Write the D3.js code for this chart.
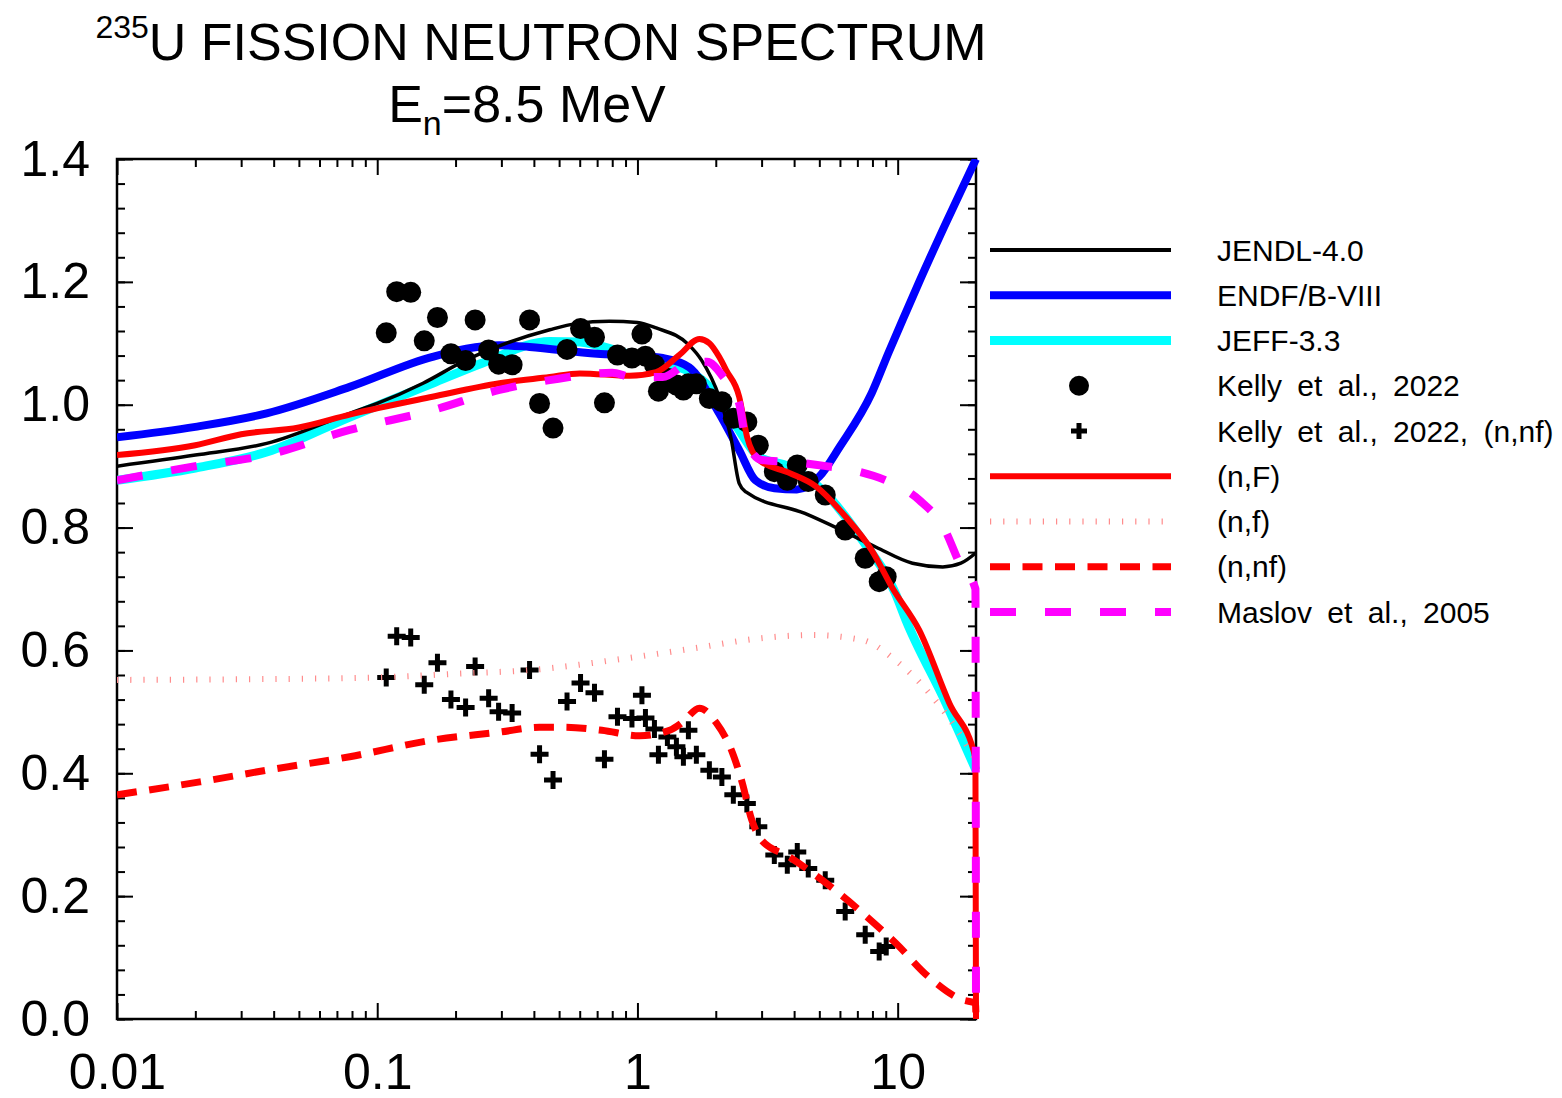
<!DOCTYPE html>
<html>
<head>
<meta charset="utf-8">
<script src="https://cdn.jsdelivr.net/npm/d3@7/dist/d3.min.js"></script>
<style>
  body { margin: 0; background: #fff; }
  text { font-family: "Liberation Sans", Arial, sans-serif; fill: #000; }
</style>
</head>
<body>
<svg id="chart" width="1562" height="1098"></svg>
<script>
/************************************ Data *******************************/
// evaluated spectra, [E (MeV), ratio to Maxwellian]
var jendl = [[0.01,0.900],[0.02,0.918],[0.0376,0.937],[0.0784,0.986],[0.1,1.002],[0.15,1.035],[0.22,1.073],
  [0.3,1.097],[0.46,1.122],[0.58,1.132],[0.78,1.136],[1.0,1.134],[1.18,1.125],[1.58,1.097],[1.76,1.073],
  [2.06,1.013],[2.29,0.945],[2.46,0.872],[2.61,0.858],[4.4,0.823],[6.0,0.797],[8.27,0.768],[11.4,0.742],
  [14.9,0.736],[17.5,0.742],[20,0.759]];
var endf = [[0.01,0.947],[0.02,0.964],[0.0376,0.986],[0.0784,1.029],[0.163,1.078],[0.295,1.097],[0.385,1.094],
  [0.7,1.083],[1.0,1.080],[1.25,1.076],[1.58,1.061],[2.06,0.986],[2.46,0.926],[2.84,0.877],[3.36,0.864],
  [4.1,0.862],[5.0,0.883],[6.0,0.932],[7.95,1.019],[9.23,1.085],[10.5,1.140],[12.1,1.200],[15.1,1.290],[20,1.40]];
var jeff = [[0.01,0.877],[0.02,0.897],[0.0376,0.923],[0.0784,0.980],[0.163,1.035],[0.254,1.068],[0.46,1.103],
  [0.6,1.102],[0.8,1.090],[1.08,1.073],[1.55,1.056],[1.89,1.029],[2.41,0.964],[2.93,0.915],[3.83,0.899],
  [5.13,0.861],[7.31,0.780],[9.8,0.693],[10.75,0.650],[15.35,0.514],[20,0.405]];
var nF = [[0.01,0.918],[0.02,0.934],[0.03,0.952],[0.05,0.963],[0.0784,0.984],[0.163,1.013],[0.295,1.035],
  [0.46,1.045],[0.6,1.051],[0.935,1.047],[1.18,1.053],[1.45,1.081],[1.73,1.107],[1.89,1.100],[2.06,1.078],
  [2.2,1.055],[2.46,1.013],[2.64,0.947],[2.93,0.910],[3.83,0.889],[4.85,0.867],[6.3,0.818],[7.95,0.763],
  [9.6,0.700],[12.1,0.633],[15.8,0.514],[19.9,0.425],[20,0.0]];
var nf1 = [[0.01,0.552],[0.03,0.553],[0.1,0.556],[0.2,0.562],[0.385,0.568],[0.935,0.588],[1.68,0.604],
  [3.0,0.620],[4.67,0.625],[7.31,0.617],[9.8,0.584],[13.2,0.531],[17.2,0.466],[20,0.420]];
var nnf = [[0.01,0.365],[0.0208,0.386],[0.0376,0.405],[0.0784,0.427],[0.163,0.454],[0.295,0.467],[0.42,0.475],
  [0.52,0.475],[0.73,0.470],[1.02,0.461],[1.33,0.470],[1.49,0.483],[1.73,0.506],[2.01,0.482],[2.32,0.433],
  [2.53,0.384],[2.75,0.324],[3.0,0.291],[3.83,0.264],[5.13,0.226],[7.31,0.173],[9.8,0.124],[13.2,0.068],
  [17.8,0.031],[19.9,0.026],[20,0.0]];
var maslov = [[0.01,0.877],[0.02,0.900],[0.0376,0.918],[0.0784,0.959],[0.163,0.991],[0.295,1.024],[0.46,1.040],
  [0.8,1.052],[0.95,1.045],[1.25,1.045],[1.62,1.070],[1.85,1.070],[2.13,1.046],[2.46,1.002],[2.61,0.943],
  [3.0,0.910],[4.1,0.906],[5.3,0.900],[7.1,0.891],[9.1,0.876],[12.1,0.845],[15.2,0.796],[17.3,0.742],
  [19.9,0.700],[20,0.0]];

// Kelly et al., 2022 measurement (same energies for both sets)
var kellyE = [0.1083,0.1188,0.1345,0.1516,0.1704,0.1920,0.2186,0.2378,0.2680,0.2927,0.3299,0.3850,0.4206,
  0.4738,0.5363,0.6044,0.6838,0.7468,0.8381,0.9526,1.0406,1.0733,1.1622,1.2040,1.3035,1.4117,1.5018,
  1.5697,1.6843,1.8896,2.1109,2.3361,2.6329,2.9140,3.3574,3.7660,4.1137,4.5329,5.2683,6.2856,7.5040,
  8.4915,9.0352];
var kellyTotal = [1.117,1.184,1.183,1.104,1.142,1.083,1.072,1.138,1.089,1.066,1.065,1.138,1.002,0.962,1.090,
  1.124,1.110,1.003,1.081,1.076,1.115,1.079,1.065,1.022,1.043,1.032,1.024,1.034,1.034,1.010,1.005,0.978,
  0.972,0.934,0.891,0.877,0.902,0.875,0.853,0.796,0.750,0.712,0.720];
var kellyNnf = [0.556,0.623,0.621,0.544,0.580,0.520,0.507,0.574,0.522,0.500,0.498,0.568,0.431,0.389,0.517,
  0.547,0.531,0.423,0.492,0.489,0.527,0.490,0.472,0.430,0.459,0.443,0.427,0.470,0.430,0.405,0.394,0.365,
  0.351,0.313,0.267,0.251,0.272,0.245,0.226,0.175,0.137,0.110,0.118];

var xMajor = [0.01, 0.1, 1, 10];
var yMajor = [0, 0.2, 0.4, 0.6, 0.8, 1.0, 1.2, 1.4];
var legendLabels = ["JENDL-4.0", "ENDF/B-VIII", "JEFF-3.3", "Kelly et al., 2022", "Kelly et al., 2022, (n,nf)",
  "(n,F)", "(n,f)", "(n,nf)", "Maslov et al., 2005"];

/************************************ Scales *******************************/
var svg = d3.select("#chart");
var x0 = 117, x1 = 976, y0 = 1019, y1 = 159;
var x = d3.scaleLog().domain([0.01, 20]).range([x0, x1]);
var y = d3.scaleLinear().domain([0, 1.4]).range([y0, y1]);

var xMinor = [];
xMajor.forEach(function(d) { for (var k = 2; k <= 9; k++) { if (d * k < 19.99) xMinor.push(d * k); } });
var yMinor = d3.range(0, 71).map(function(i) { return i * 0.04; }).filter(function(v) { return v < 1.41; });

/************************************ Styles *******************************/
var styles = {
  jendl:  {data: jendl,  color: "#000000", width: 3.5, dash: null},
  endf:   {data: endf,   color: "#0000ff", width: 8,   dash: null},
  jeff:   {data: jeff,   color: "#00ffff", width: 9,   dash: null},
  nF:     {data: nF,     color: "#ff0000", width: 6,   dash: null},
  nf1:    {data: nf1,    color: "#ff8c8c", width: 6,   dash: "1.2,12"},
  nnf:    {data: nnf,    color: "#ff0000", width: 7,   dash: "20,12.5"},
  maslov: {data: maslov, color: "#ff00ff", width: 8,   dash: "26,29"}
};

svg.append("defs").append("clipPath").attr("id", "plotclip")
  .append("rect").attr("x", x0).attr("y", y1).attr("width", x1 - x0 + 6).attr("height", y0 - y1 + 2);

/************************************ Axes *******************************/
function styleAxis(g) {
  g.select(".domain").remove();
  g.selectAll(".tick line").attr("stroke", "#000").attr("stroke-width", 2);
  g.selectAll(".tick text").style("font-size", "50px").attr("font-family", "Liberation Sans, Arial, sans-serif");
}

svg.append("g").attr("transform", "translate(" + x0 + ",0)")
  .call(d3.axisLeft(y).tickValues(yMinor).tickSize(-8).tickFormat("")).call(styleAxis);
svg.append("g").attr("transform", "translate(" + x0 + ",0)")
  .call(d3.axisLeft(y).tickValues(yMajor).tickSize(-16).tickPadding(27).tickFormat(d3.format(".1f"))).call(styleAxis);
svg.append("g").attr("transform", "translate(" + x1 + ",0)")
  .call(d3.axisRight(y).tickValues(yMinor).tickSize(-8).tickFormat("")).call(styleAxis);
svg.append("g").attr("transform", "translate(" + x1 + ",0)")
  .call(d3.axisRight(y).tickValues(yMajor).tickSize(-16).tickFormat("")).call(styleAxis);

svg.append("g").attr("transform", "translate(0," + y0 + ")")
  .call(d3.axisBottom(x).tickValues(xMinor).tickSize(-8).tickFormat("")).call(styleAxis);
svg.append("g").attr("transform", "translate(0," + y0 + ")")
  .call(d3.axisBottom(x).tickValues(xMajor).tickSize(-16).tickPadding(34).tickFormat(function(d) { return String(d); }))
  .call(styleAxis);
svg.append("g").attr("transform", "translate(0," + y1 + ")")
  .call(d3.axisTop(x).tickValues(xMinor).tickSize(-8).tickFormat("")).call(styleAxis);
svg.append("g").attr("transform", "translate(0," + y1 + ")")
  .call(d3.axisTop(x).tickValues(xMajor).tickSize(-16).tickFormat("")).call(styleAxis);

svg.append("rect").attr("x", x0).attr("y", y1).attr("width", x1 - x0).attr("height", y0 - y1)
  .attr("fill", "none").attr("stroke", "#000").attr("stroke-width", 2.5);

/************************************ Curves *******************************/
var line = d3.line()
  .x(function(d) { return x(d[0]); })
  .y(function(d) { return y(d[1]); })
  .curve(d3.curveMonotoneX);

var plot = svg.append("g").attr("clip-path", "url(#plotclip)");

function drawCurve(key) {
  var s = styles[key];
  plot.append("path").datum(s.data)
    .attr("d", line)
    .attr("fill", "none")
    .attr("stroke", s.color)
    .attr("stroke-width", s.width)
    .attr("stroke-dasharray", s.dash)
    .attr("stroke-linejoin", "round");
}

drawCurve("jeff");
drawCurve("endf");
drawCurve("jendl");

var kelly = kellyE.map(function(e, i) { return {e: e, tot: kellyTotal[i], nnf: kellyNnf[i]}; });
var crossPath = "M-9,0H9M0,-9V9";

plot.selectAll("circle.kelly").data(kelly).enter().append("circle")
  .attr("class", "kelly")
  .attr("cx", function(d) { return x(d.e); })
  .attr("cy", function(d) { return y(d.tot); })
  .attr("r", 10.5)
  .attr("fill", "#000");

plot.selectAll("path.kcross").data(kelly).enter().append("path")
  .attr("class", "kcross")
  .attr("transform", function(d) { return "translate(" + x(d.e) + "," + y(d.nnf) + ")"; })
  .attr("d", crossPath)
  .attr("stroke", "#000").attr("stroke-width", 5).attr("fill", "none");

drawCurve("nf1");
drawCurve("nnf");
drawCurve("nF");
drawCurve("maslov");

/************************************ Legend *******************************/
var legendKeys = ["jendl", "endf", "jeff", "dot", "cross", "nF", "nf1", "nnf", "maslov"];
var legend = svg.append("g");
legendKeys.forEach(function(k, i) {
  var ly = 250 + i * 45.25;
  if (k === "dot") {
    legend.append("circle").attr("cx", 1079).attr("cy", ly).attr("r", 10).attr("fill", "#000");
  } else if (k === "cross") {
    legend.append("path").attr("transform", "translate(1079," + ly + ")").attr("d", "M-8,0H8M0,-8V8")
      .attr("stroke", "#000").attr("stroke-width", 5);
  } else {
    var s = styles[k];
    legend.append("line").attr("x1", 990).attr("x2", 1171).attr("y1", ly).attr("y2", ly)
      .attr("stroke", s.color).attr("stroke-width", s.width === 3.5 ? 4 : s.width)
      .attr("stroke-dasharray", s.dash);
  }
  legend.append("text").attr("x", 1217).attr("y", ly).attr("dy", "0.35em")
    .style("font-size", "30px").style("word-spacing", "7px").text(legendLabels[i]);
});

/************************************ Title *******************************/
var t1 = svg.append("text").attr("x", 541).attr("y", 60).attr("text-anchor", "middle").style("font-size", "52px");
t1.append("tspan").text("235").style("font-size", "32px").attr("dy", -22);
t1.append("tspan").text("U FISSION NEUTRON SPECTRUM").attr("dy", 22);

var t2 = svg.append("text").attr("x", 527).attr("y", 122).attr("text-anchor", "middle").style("font-size", "52px");
t2.append("tspan").text("E");
t2.append("tspan").text("n").style("font-size", "34px").attr("dy", 13);
t2.append("tspan").text("=8.5 MeV").attr("dy", -13);
</script>
</body>
</html>
